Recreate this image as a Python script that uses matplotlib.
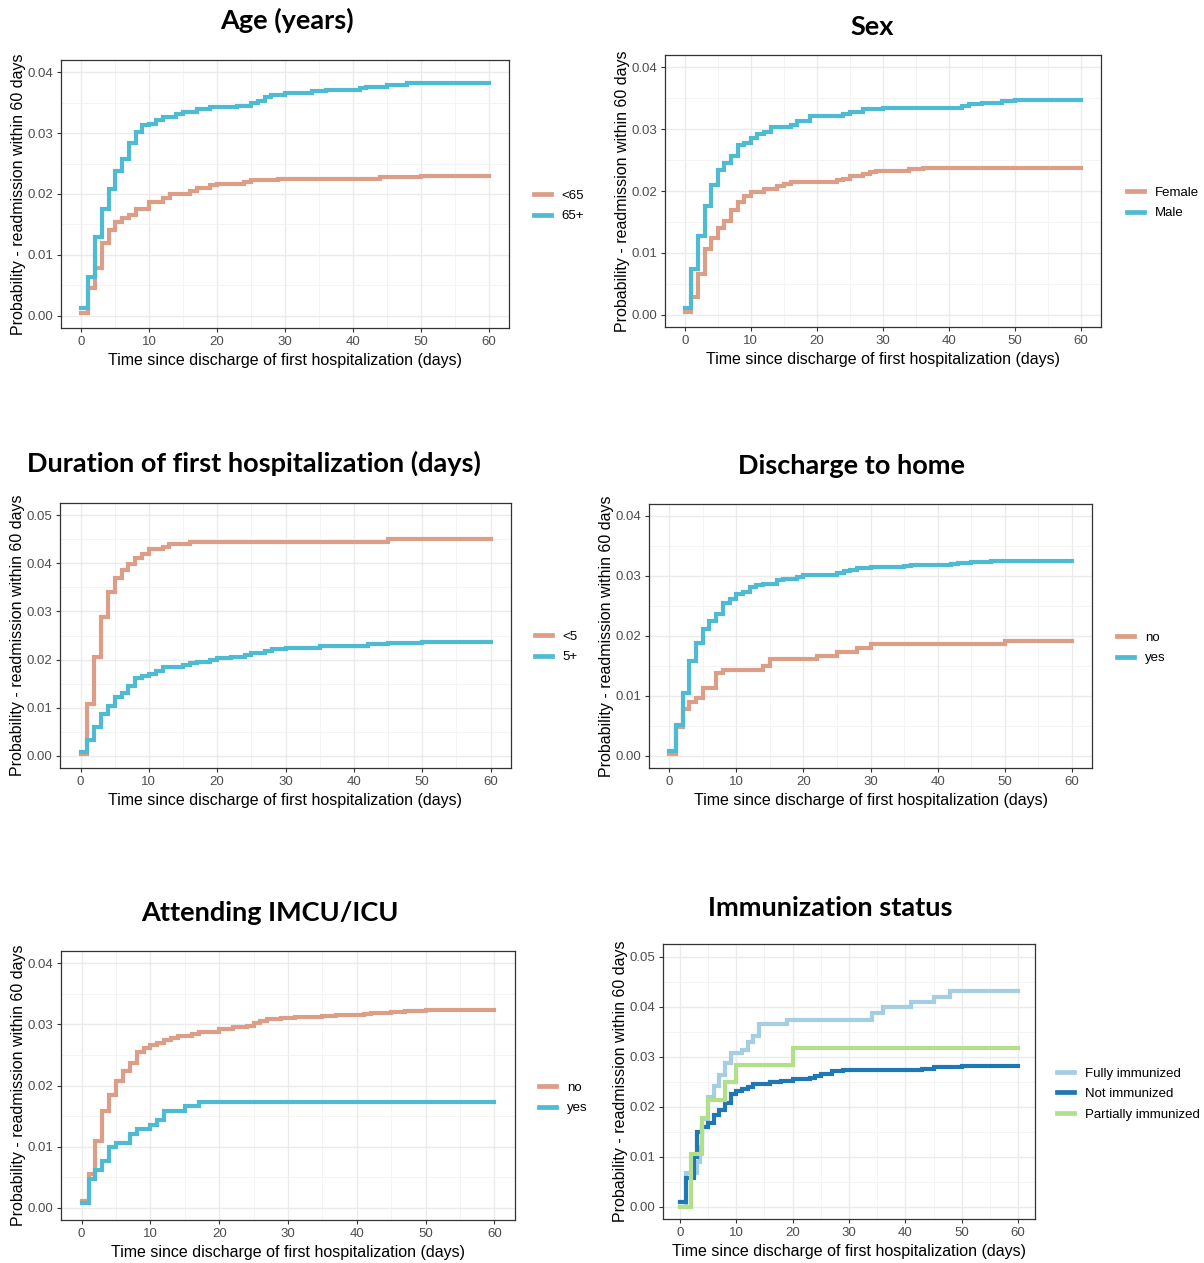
import matplotlib
matplotlib.use("Agg")
import matplotlib.pyplot as plt
from matplotlib.lines import Line2D
from matplotlib.ticker import MultipleLocator

W, H = 1204, 1263

SALMON = "#DC9E86"
TEAL = "#4EBBD3"

# ---- data: step times (days) and cumulative probability --------------------
age_lt65_t = [0, 1, 2, 3, 4, 5, 6, 7, 8, 10, 12, 13, 16, 17, 19, 20, 24, 25, 29, 44, 50, 60]
age_lt65_v = [0.0005, 0.0045, 0.0078, 0.0119, 0.0141, 0.0154, 0.0160, 0.0165, 0.0176, 0.0187,
              0.0193, 0.0200, 0.0205, 0.0210, 0.0214, 0.0217, 0.0220, 0.0223, 0.0225, 0.0228,
              0.0230, 0.0230]
age_65p_t = [0, 1, 2, 3, 4, 5, 6, 7, 8, 9, 10, 11, 12, 14, 15, 17, 19, 23, 25, 26, 27, 28, 30,
             34, 36, 41, 42, 45, 48, 60]
age_65p_v = [0.0013, 0.0064, 0.0129, 0.0175, 0.0208, 0.0238, 0.0257, 0.0283, 0.0302, 0.0313,
             0.0315, 0.0321, 0.0326, 0.0332, 0.0334, 0.0340, 0.0343, 0.0345, 0.0349, 0.0352,
             0.0359, 0.0362, 0.0366, 0.0369, 0.0371, 0.0374, 0.0376, 0.0379, 0.0382, 0.0382]

sex_f_t = [0, 1, 2, 3, 4, 5, 6, 7, 8, 9, 10, 12, 14, 15, 16, 23, 24, 25, 27, 28, 29, 34, 36, 60]
sex_f_v = [0.0004, 0.0028, 0.0066, 0.0106, 0.0124, 0.0140, 0.0151, 0.0169, 0.0182, 0.0192,
           0.0198, 0.0203, 0.0208, 0.0211, 0.0214, 0.0217, 0.0219, 0.0225, 0.0227, 0.0230,
           0.0233, 0.0235, 0.0238, 0.0238]
sex_m_t = [0, 1, 2, 3, 4, 5, 6, 7, 8, 9, 10, 11, 12, 13, 16, 17, 19, 24, 25, 27, 30, 42, 43,
           45, 48, 50, 60]
sex_m_v = [0.0010, 0.0074, 0.0128, 0.0175, 0.0209, 0.0234, 0.0245, 0.0256, 0.0275, 0.0278,
           0.0285, 0.0292, 0.0296, 0.0303, 0.0307, 0.0314, 0.0322, 0.0324, 0.0328, 0.0332,
           0.0335, 0.0338, 0.0340, 0.0343, 0.0346, 0.0347, 0.0347]

dur_lt5_t = [0, 1, 2, 3, 4, 5, 6, 7, 8, 9, 10, 12, 13, 16, 45, 60]
dur_lt5_v = [0.0005, 0.0107, 0.0205, 0.0288, 0.0341, 0.0369, 0.0386, 0.0398, 0.0411, 0.0420,
             0.0429, 0.0433, 0.0440, 0.0445, 0.0451, 0.0451]
dur_5p_t = [0, 1, 2, 3, 4, 5, 6, 7, 8, 9, 10, 11, 12, 15, 16, 17, 19, 20, 22, 24, 25, 27, 28,
            30, 35, 42, 45, 50, 60]
dur_5p_v = [0.0008, 0.0033, 0.0060, 0.0088, 0.0104, 0.0123, 0.0130, 0.0145, 0.0161, 0.0166,
            0.0171, 0.0177, 0.0184, 0.0189, 0.0192, 0.0196, 0.0199, 0.0203, 0.0206, 0.0209,
            0.0214, 0.0218, 0.0222, 0.0225, 0.0228, 0.0232, 0.0235, 0.0237, 0.0237]

home_no_t = [0, 1, 2, 3, 4, 5, 7, 8, 14, 15, 22, 25, 28, 30, 50, 60]
home_no_v = [0.0004, 0.0049, 0.0078, 0.0090, 0.0097, 0.0113, 0.0138, 0.0143, 0.0150, 0.0162,
             0.0167, 0.0174, 0.0180, 0.0186, 0.0192, 0.0192]
home_yes_t = [0, 1, 2, 3, 4, 5, 6, 7, 8, 9, 10, 11, 12, 13, 14, 16, 17, 19, 20, 25, 26, 27,
              28, 30, 35, 36, 42, 43, 45, 48, 60]
home_yes_v = [0.0008, 0.0052, 0.0105, 0.0158, 0.0189, 0.0211, 0.0225, 0.0237, 0.0255, 0.0262,
              0.0270, 0.0274, 0.0281, 0.0285, 0.0287, 0.0293, 0.0295, 0.0298, 0.0301, 0.0305,
              0.0308, 0.0310, 0.0313, 0.0315, 0.0317, 0.0318, 0.0320, 0.0321, 0.0323, 0.0325,
              0.0325]

icu_no_t = [0, 1, 2, 3, 4, 5, 6, 7, 8, 9, 10, 11, 12, 13, 14, 16, 17, 20, 22, 24, 25, 26, 27,
            29, 31, 35, 37, 41, 42, 45, 47, 50, 60]
icu_no_v = [0.0011, 0.0055, 0.0109, 0.0158, 0.0185, 0.0208, 0.0223, 0.0237, 0.0254, 0.0262,
            0.0267, 0.0270, 0.0274, 0.0277, 0.0281, 0.0284, 0.0287, 0.0293, 0.0296, 0.0298,
            0.0302, 0.0305, 0.0308, 0.0311, 0.0312, 0.0314, 0.0315, 0.0317, 0.0319, 0.0320,
            0.0322, 0.0324, 0.0324]
icu_yes_t = [0, 1, 2, 3, 4, 5, 7, 8, 10, 11, 12, 15, 17, 60]
icu_yes_v = [0.0008, 0.0047, 0.0061, 0.0076, 0.0099, 0.0106, 0.0121, 0.0129, 0.0136, 0.0144,
             0.0158, 0.0166, 0.0173, 0.0173]

imm_full_t = [0, 1, 3, 3.5, 4, 5, 6, 7, 8, 9, 11, 12, 13, 14, 19, 34, 36, 41, 45, 48, 60]
imm_full_v = [0.0, 0.0067, 0.0090, 0.0120, 0.0175, 0.0220, 0.0242, 0.0264, 0.0287, 0.0307,
              0.0314, 0.0330, 0.0342, 0.0366, 0.0374, 0.0387, 0.0399, 0.0409, 0.0419, 0.0432,
              0.0432]
imm_not_t = [0, 1, 2.5, 3, 4, 5, 6, 7, 8, 9, 10, 11, 12, 13, 16, 18, 20, 23, 24, 25, 27, 29,
             43, 45, 50, 60]
imm_not_v = [0.0009, 0.0057, 0.0100, 0.0149, 0.0160, 0.0167, 0.0184, 0.0194, 0.0207, 0.0226,
             0.0231, 0.0235, 0.0240, 0.0246, 0.0249, 0.0252, 0.0255, 0.0257, 0.0261, 0.0265,
             0.0271, 0.0274, 0.0276, 0.0279, 0.0281, 0.0281]
imm_part_t = [0, 2, 4, 5, 8, 10, 20, 60]
imm_part_v = [0.0, 0.0105, 0.0177, 0.0213, 0.0249, 0.0283, 0.0318, 0.0318]

# ---- layout (pixel boxes of each panel: left, top, right, bottom) ----------
panels = [
    dict(title="Age (years)", box=(61, 60, 509, 328), ymax=0.04, tx=287, ty=20,
         series=[("<65", age_lt65_t, age_lt65_v, SALMON), ("65+", age_65p_t, age_65p_v, TEAL)],
         leg=(534, 206)),
    dict(title="Sex", box=(665, 55, 1101, 327), ymax=0.04, tx=872, ty=27,
         series=[("Female", sex_f_t, sex_f_v, SALMON), ("Male", sex_m_t, sex_m_v, TEAL)],
         leg=(1127, 203)),
    dict(title="Duration of first hospitalization (days)", box=(60, 503, 511, 768), ymax=0.05,
         tx=254, ty=463,
         series=[("<5", dur_lt5_t, dur_lt5_v, SALMON), ("5+", dur_5p_t, dur_5p_v, TEAL)],
         leg=(535, 647)),
    dict(title="Discharge to home", box=(649, 504, 1092, 768), ymax=0.04, tx=851, ty=466,
         series=[("no", home_no_t, home_no_v, SALMON), ("yes", home_yes_t, home_yes_v, TEAL)],
         leg=(1117, 648)),
    dict(title="Attending IMCU/ICU", box=(61, 951, 515, 1220), ymax=0.04, tx=270, ty=913,
         series=[("no", icu_no_t, icu_no_v, SALMON), ("yes", icu_yes_t, icu_yes_v, TEAL)],
         leg=(539, 1098)),
    dict(title="Immunization status", box=(663, 944, 1035, 1219), ymax=0.05, tx=830, ty=908,
         series=[("Fully immunized", imm_full_t, imm_full_v, "#A6CEE3"),
                 ("Not immunized", imm_not_t, imm_not_v, "#1F78B4"),
                 ("Partially immunized", imm_part_t, imm_part_v, "#B2DF8A")],
         leg=(1057, 1094)),
]

plt.rcParams["font.family"] = ["Liberation Sans", "DejaVu Sans"]

fig = plt.figure(figsize=(W / 100, H / 100), dpi=100)
fig.patch.set_facecolor("white")

for p in panels:
    l, t, r, b = p["box"]
    ax = fig.add_axes([l / W, 1 - b / H, (r - l) / W, (b - t) / H])
    ymax = p["ymax"]
    ax.set_xlim(-3, 63)
    ax.set_ylim(-0.05 * ymax, 1.05 * ymax)
    ax.xaxis.set_major_locator(MultipleLocator(10))
    ax.xaxis.set_minor_locator(MultipleLocator(5))
    ax.yaxis.set_major_locator(MultipleLocator(0.01))
    ax.yaxis.set_minor_locator(MultipleLocator(0.005))
    ax.yaxis.set_major_formatter(matplotlib.ticker.FormatStrFormatter("%.2f"))
    ax.grid(which="major", color="#EBEBEB", lw=1.0)
    ax.grid(which="minor", color="#F2F2F2", lw=0.6)
    ax.set_axisbelow(True)
    for s in ax.spines.values():
        s.set_color("#333333")
        s.set_linewidth(0.9)
    ax.tick_params(which="major", length=3, color="#333333", labelsize=9.5,
                   labelcolor="#4D4D4D", pad=2.5)
    ax.tick_params(which="minor", length=0)

    handles = []
    for name, ts, vs, col in p["series"]:
        ax.step(ts, vs, where="post", color=col, lw=3.0, solid_joinstyle="miter")
        handles.append(Line2D([], [], color=col, lw=3.4, label=name))

    ax.set_xlabel("Time since discharge of first hospitalization (days)", fontsize=11.5,
                  color="black", labelpad=4)
    ax.set_ylabel("Probability - readmission within 60 days", fontsize=11.5,
                  color="black", labelpad=1)

    fig.text(p["tx"] / W, 1 - p["ty"] / H, p["title"], ha="center", va="center",
             fontsize=19.5, fontweight="bold", family=["Lato", "DejaVu Sans"])

    lx, ly = p["leg"]
    fig.legend(handles=handles, loc="center left", bbox_to_anchor=(lx / W, 1 - ly / H),
               frameon=False, fontsize=9.5, handlelength=1.3, handletextpad=0.8,
               labelspacing=0.62, borderaxespad=0, borderpad=0)

fig.savefig("out.png", dpi=100, facecolor="white")
